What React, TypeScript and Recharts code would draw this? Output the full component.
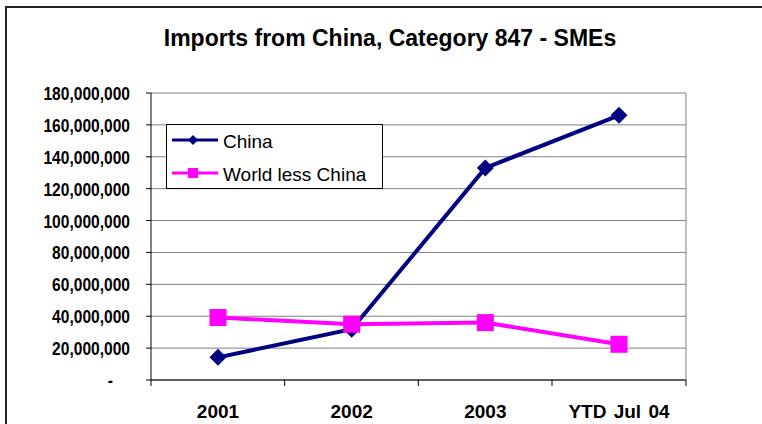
import React from 'react';
import { LineChart, Line, XAxis, YAxis, CartesianGrid, Legend, Customized } from 'recharts';

// Import values (US$) by period
const periods = ['2001', '2002', '2003', 'YTD Jul 04'];
const chinaImports = [14200000, 31800000, 133000000, 166000000];
const worldLessChina = [39200000, 35000000, 36000000, 22400000];
const yTicks = [0, 20000000, 40000000, 60000000, 80000000, 100000000, 120000000, 140000000, 160000000, 180000000];

const chartTitle = 'Imports from China, Category 847 - SMEs';

const data = periods.map((p, i) => ({
  period: p,
  china: chinaImports[i],
  world: worldLessChina[i],
}));

const FONT = '"Liberation Sans", Arial, Helvetica, sans-serif';
const NAVY = '#000080';
const MAGENTA = '#FF00FF';
const HALF_BAND = 67;

const fmtY = (v: number) => (v === 0 ? '-' : v.toLocaleString('en-US'));

const YTick = (props: any) => {
  const { x, y, payload } = props;
  const isZero = payload.value === 0;
  const tx = isZero ? x - 17 : x;
  return (
    <text
      transform={`translate(${tx},${y + 7}) scale(0.82,1)`}
      textAnchor="end"
      fontFamily={FONT}
      fontWeight="bold"
      fontSize={19}
      fill="#000"
    >
      {fmtY(payload.value)}
    </text>
  );
};

const XTick = (props: any) => {
  const { x, y, payload, index, visibleTicksCount } = props;
  const axisY = y - 6;
  const last = index === (visibleTicksCount ?? periods.length) - 1;
  return (
    <g>
      <line x1={x - HALF_BAND} x2={x - HALF_BAND} y1={axisY} y2={axisY + 6} stroke="#000" strokeWidth={1} />
      {last && (
        <line x1={x + HALF_BAND} x2={x + HALF_BAND} y1={axisY} y2={axisY + 6} stroke="#000" strokeWidth={1} />
      )}
      <text
        x={x}
        y={axisY + 38}
        textAnchor="middle"
        fontFamily={FONT}
        fontWeight="bold"
        fontSize={19}
        fill="#000"
        style={{ wordSpacing: '2px' }}
      >
        {payload.value}
      </text>
    </g>
  );
};

const DiamondDot = (props: any) => {
  const { cx, cy } = props;
  if (cx == null || cy == null) return null;
  const h = 8.5;
  return (
    <polygon
      key={`d-${cx}`}
      points={`${cx},${cy - h} ${cx + h},${cy} ${cx},${cy + h} ${cx - h},${cy}`}
      fill={NAVY}
    />
  );
};

const SquareDot = (props: any) => {
  const { cx, cy } = props;
  if (cx == null || cy == null) return null;
  const s = 17;
  return <rect key={`s-${cx}`} x={cx - s / 2} y={cy - s / 2} width={s} height={s} fill={MAGENTA} />;
};

const LegendBox = (props: any) => {
  const { payload = [] } = props;
  return (
    <svg width={217} height={65} style={{ display: 'block' }}>
      <rect x={0.5} y={0.5} width={216} height={64} fill="#fff" stroke="#000" strokeWidth={1} />
      {payload.map((entry: any, i: number) => {
        const cy = 16 + i * 33;
        const color = entry.color;
        return (
          <g key={entry.value}>
            <line x1={6} x2={52} y1={cy} y2={cy} stroke={color} strokeWidth={3} />
            {entry.dataKey === 'china' ? (
              <polygon points={`27,${cy - 5} 32,${cy} 27,${cy + 5} 22,${cy}`} fill={color} />
            ) : (
              <rect x={22} y={cy - 5} width={10} height={10} fill={color} />
            )}
            <text x={57} y={cy + 8} fontFamily={FONT} fontSize={19} fill="#000">
              {entry.value}
            </text>
          </g>
        );
      })}
    </svg>
  );
};

const Frame = () => (
  <g>
    <text
      x={390}
      y={46}
      textAnchor="middle"
      fontFamily={FONT}
      fontWeight="bold"
      fontSize={23}
      fill="#000"
    >
      {chartTitle}
    </text>
    <path d="M6,424 L6,7 L762,7" fill="none" stroke="#222" strokeWidth={2} />
  </g>
);

export default function App() {
  return (
    <div style={{ position: 'absolute', left: 0, top: 0, width: 762, height: 424, overflow: 'hidden', background: '#fff' }}>
      <LineChart
        width={762}
        height={424}
        data={data}
        margin={{ top: 93, right: 76, bottom: 0, left: 0 }}
      >
        <CartesianGrid
          stroke="#808080"
          strokeWidth={1}
          vertical
          verticalCoordinatesGenerator={({ offset }: any) => [offset.left + offset.width]}
        />
        <XAxis
          dataKey="period"
          height={44}
          padding={{ left: HALF_BAND, right: HALF_BAND }}
          axisLine={{ stroke: '#000', strokeWidth: 1 }}
          tickLine={false}
          tickSize={6}
          tickMargin={0}
          tick={<XTick />}
          interval={0}
        />
        <YAxis
          width={151}
          domain={[0, 180000000]}
          ticks={yTicks}
          interval={0}
          axisLine={{ stroke: '#000', strokeWidth: 1 }}
          tickLine={{ stroke: '#000' }}
          tickSize={5}
          tickMargin={16}
          tick={<YTick />}
        />
        <Legend
          layout="vertical"
          align="center"
          verticalAlign="middle"
          content={<LegendBox />}
          wrapperStyle={{ left: 166, top: 124, width: 217, height: 65 }}
        />
        <Line
          type="linear"
          dataKey="china"
          name="China"
          stroke={NAVY}
          strokeWidth={4}
          dot={<DiamondDot />}
          activeDot={false}
          isAnimationActive={false}
        />
        <Line
          type="linear"
          dataKey="world"
          name="World less China"
          stroke={MAGENTA}
          strokeWidth={4}
          dot={<SquareDot />}
          activeDot={false}
          isAnimationActive={false}
        />
        <Customized component={Frame} />
      </LineChart>
    </div>
  );
}
